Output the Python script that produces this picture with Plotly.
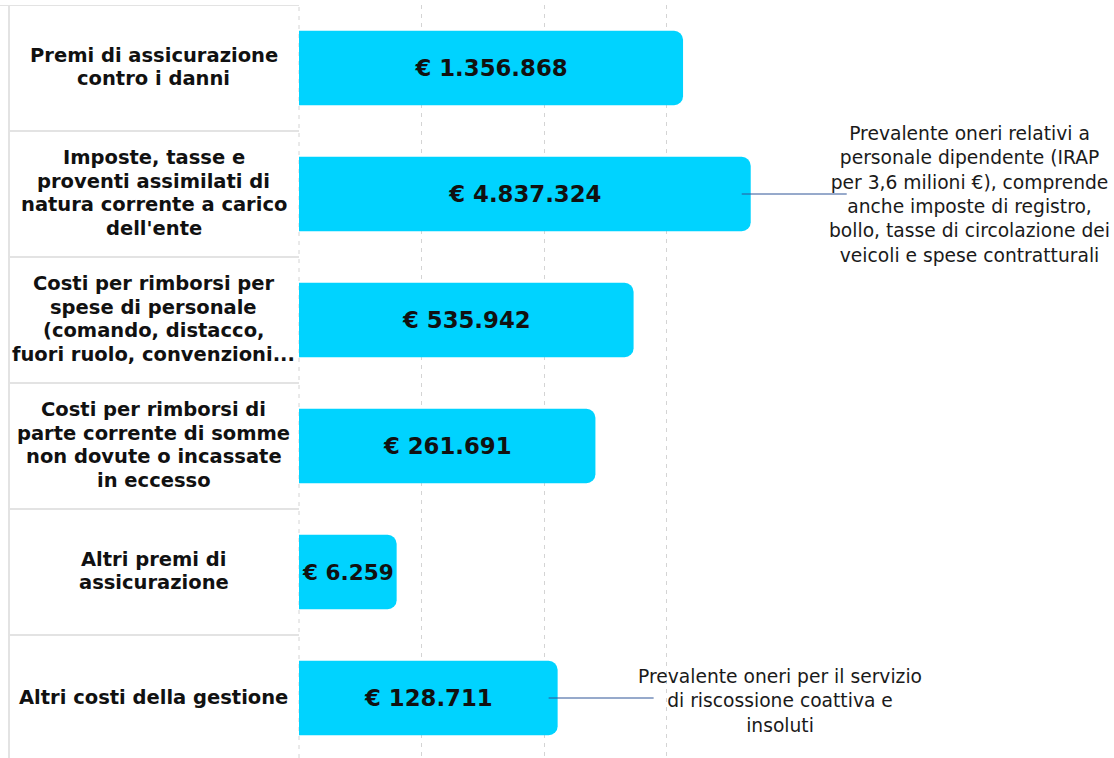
import math
import plotly.graph_objects as go

# ---- data ----
categories = [
    "Premi di assicurazione contro i danni",
    "Imposte, tasse e proventi assimilati di natura corrente a carico dell'ente",
    "Costi per rimborsi per spese di personale (comando, distacco, fuori ruolo, convenzioni...",
    "Costi per rimborsi di parte corrente di somme non dovute o incassate in eccesso",
    "Altri premi di assicurazione",
    "Altri costi della gestione",
]
label_lines = [
    ["Premi di assicurazione", "contro i danni"],
    ["Imposte, tasse e", "proventi assimilati di", "natura corrente a carico", "dell'ente"],
    ["Costi per rimborsi per", "spese di personale", "(comando, distacco,", "fuori ruolo, convenzioni..."],
    ["Costi per rimborsi di", "parte corrente di somme", "non dovute o incassate", "in eccesso"],
    ["Altri premi di", "assicurazione"],
    ["Altri costi della gestione"],
]
values = [1356868, 4837324, 535942, 261691, 6259, 128711]
value_labels = ["€ " + f"{v:,}".replace(",", ".") for v in values]

notes = {
    1: "Prevalente oneri relativi a<br>personale dipendente (IRAP<br>per 3,6 milioni €), comprende<br>anche imposte di registro,<br>bollo, tasse di circolazione dei<br>veicoli e spese contratturali",
    5: "Prevalente oneri per il servizio<br>di riscossione coattiva e<br>insoluti",
}
note_x_px = {1: 969, 5: 780}
note_yshift = {1: 0, 5: -3}

# ---- layout geometry (pixels) ----
W, H = 1114, 758
L, R = 299, 771
T = 5
PW = R - L
BAND = 126.0
DECADE = 122.6
n = len(categories)
plot_h = H - T
y_bottom = -0.5 + plot_h / BAND
XMIN = 3.0
XMAX = XMIN + PW / DECADE


def px_to_paper(px):
    return (px - L) / PW


def value_to_paper(v):
    return (math.log10(v) - XMIN) / (XMAX - XMIN)


FONT = "DejaVu Sans"
BAR_COLOR = "#00D3FF"
GRID_COLOR = "#d4d4d4"
GRID_DASH = "4px,5px"

fig = go.Figure()
fig.add_trace(go.Bar(
    y=categories,
    x=values,
    orientation="h",
    width=0.59,
    marker=dict(color=BAR_COLOR, cornerradius=9, line=dict(width=0)),
    text=["<b>" + t + "</b>" for t in value_labels],
    textposition="inside",
    insidetextanchor="middle",
    constraintext="none",
    textfont=dict(family=FONT, size=22.8, color="#111111"),
    hoverinfo="skip",
))

shapes = []
annotations = []
BOX_LINE = "#e3e3e3"
# dashed line at the left edge of the plot (first decade)
shapes.append(dict(type="line", xref="paper", yref="paper", x0=0, x1=0, y0=0, y1=1,
                   line=dict(color=GRID_COLOR, width=1, dash=GRID_DASH), layer="below"))
# label column box
x_box_left = px_to_paper(9)
for k in range(n + 1):
    shapes.append(dict(type="line", xref="paper", yref="y",
                       x0=px_to_paper(0) if k == 0 else x_box_left, x1=0,
                       y0=k - 0.5, y1=k - 0.5,
                       line=dict(color=BOX_LINE, width=2), layer="below"))
shapes.append(dict(type="line", xref="paper", yref="y",
                   x0=x_box_left, x1=x_box_left, y0=-0.5, y1=y_bottom,
                   line=dict(color=BOX_LINE, width=2), layer="below"))

# category labels, one annotation per line
LINE_H = 23.5
for i, lines in enumerate(label_lines):
    m = len(lines)
    for j, ln in enumerate(lines):
        annotations.append(dict(
            text="<b>" + ln + "</b>", xref="paper", yref="y",
            x=px_to_paper(153.5), y=categories[i],
            xanchor="center", yanchor="middle",
            yshift=((m - 1) / 2 - j) * LINE_H + 1,
            showarrow=False,
            font=dict(family=FONT, size=19.5, color="#111111"),
        ))

# callouts
for idx, txt in notes.items():
    x0 = value_to_paper(values[idx]) - 9 / PW
    shapes.append(dict(type="line", xref="paper", yref="y",
                       x0=x0, x1=x0 + 105 / PW, y0=idx, y1=idx,
                       line=dict(color="#2E5597", width=1)))
    annotations.append(dict(
        text=txt, xref="paper", yref="y",
        x=px_to_paper(note_x_px[idx]), y=categories[idx],
        xanchor="center", yanchor="middle", align="center",
        yshift=note_yshift[idx],
        showarrow=False,
        font=dict(family=FONT, size=18.7, color="#1a1a1a"),
    ))

fig.update_layout(
    width=W, height=H,
    margin=dict(l=L, r=W - R, t=T, b=0, pad=0),
    plot_bgcolor="white", paper_bgcolor="white",
    showlegend=False,
    xaxis=dict(type="log", range=[XMIN, XMAX], dtick=1,
               showgrid=True, gridcolor=GRID_COLOR, griddash=GRID_DASH, gridwidth=1,
               showticklabels=False, ticks="", zeroline=False, showline=False),
    yaxis=dict(categoryorder="array", categoryarray=categories,
               range=[y_bottom, -0.5], showticklabels=False, ticks="",
               showgrid=False, zeroline=False, showline=False),
    shapes=shapes,
    annotations=annotations,
    bargap=0.4,
)

fig.write_html("out.html", config={"displayModeBar": False},
               post_script="document.body.style.margin='0px';")
